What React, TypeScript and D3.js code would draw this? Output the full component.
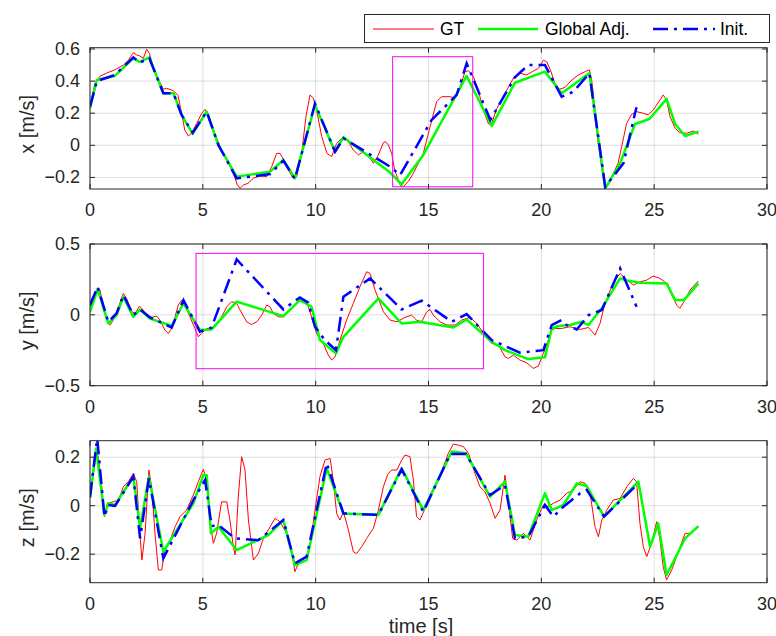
import React from 'react';
import * as d3 from 'd3';

// time axis shared by the three panels
const timeTicks = [0, 5, 10, 15, 20, 25, 30];

// panel 1: x velocity
const gtX = [[0,0.24],[0.22,0.386],[0.44,0.43],[0.74,0.45],[1.1,0.47],[1.48,0.5],[1.7,0.53],[1.92,0.577],[2.07,0.563],[2.2,0.557],[2.36,0.54],[2.51,0.598],[2.63,0.573],[2.8,0.49],[3.03,0.41],[3.25,0.35],[3.4,0.355],[3.7,0.34],[3.9,0.31],[4.06,0.2],[4.2,0.095],[4.36,0.058],[4.5,0.075],[4.73,0.137],[4.95,0.2],[5.1,0.224],[5.24,0.19],[5.47,0.096],[5.76,-0.008],[6.06,-0.09],[6.35,-0.174],[6.53,-0.247],[6.65,-0.268],[6.8,-0.247],[7.0,-0.237],[7.24,-0.205],[7.53,-0.19],[7.83,-0.195],[8.05,-0.133],[8.27,-0.05],[8.42,-0.05],[8.57,-0.087],[8.79,-0.154],[9.0,-0.205],[9.16,-0.195],[9.38,-0.05],[9.57,0.18],[9.75,0.314],[9.9,0.293],[10.04,0.22],[10.27,0.054],[10.5,-0.05],[10.71,-0.07],[10.93,0.012],[11.23,0.054],[11.45,0.023],[11.67,-0.03],[11.9,-0.06],[12.1,-0.04],[12.33,-0.06],[12.56,-0.112],[12.78,-0.06],[13.0,0.017],[13.1,0.023],[13.22,0.002],[13.37,-0.05],[13.5,-0.154],[13.74,-0.247],[13.88,-0.258],[14.1,-0.226],[14.33,-0.174],[14.77,-0.05],[15.07,0.116],[15.36,0.272],[15.58,0.303],[15.96,0.303],[16.18,0.293],[16.4,0.366],[16.62,0.459],[16.77,0.465],[16.99,0.428],[17.2,0.345],[17.43,0.22],[17.66,0.133],[17.8,0.137],[18.0,0.22],[18.3,0.303],[18.6,0.376],[18.8,0.428],[19.05,0.449],[19.35,0.438],[19.6,0.459],[19.87,0.48],[20.09,0.53],[20.24,0.52],[20.4,0.47],[20.6,0.386],[20.8,0.349],[21.05,0.361],[21.35,0.407],[21.64,0.438],[21.94,0.459],[22.13,0.47],[22.23,0.407],[22.38,0.22],[22.5,0.033],[22.67,-0.133],[22.8,-0.247],[22.97,-0.247],[23.19,-0.174],[23.4,-0.112],[23.56,-0.008],[23.78,0.137],[24.0,0.193],[24.22,0.21],[24.5,0.2],[24.74,0.19],[24.96,0.22],[25.26,0.283],[25.4,0.314],[25.55,0.283],[25.7,0.18],[25.93,0.106],[26.14,0.079],[26.44,0.075],[26.73,0.089],[26.96,0.07]];
const adjX = [[0,0.23],[0.3,0.407],[1.1,0.432],[1.92,0.542],[2.2,0.52],[2.63,0.548],[3.25,0.324],[3.7,0.324],[4.06,0.189],[4.55,0.071],[5.17,0.21],[5.69,0.002],[6.5,-0.195],[7.98,-0.164],[8.57,-0.091],[9.08,-0.206],[9.97,0.251],[10.86,-0.04],[11.23,0.05],[13.3,-0.17],[13.81,-0.243],[14.77,-0.06],[16.69,0.432],[17.8,0.12],[18.83,0.39],[20.16,0.459],[20.9,0.324],[22.13,0.449],[22.83,-0.268],[23.49,-0.112],[24.15,0.133],[24.79,0.164],[25.55,0.289],[25.93,0.133],[26.37,0.058],[26.96,0.085]];
const initX = [[0,0.24],[0.3,0.4],[1.1,0.438],[1.92,0.548],[2.2,0.515],[2.63,0.542],[3.25,0.324],[3.7,0.324],[4.06,0.189],[4.55,0.079],[5.17,0.21],[5.69,0.002],[6.5,-0.206],[7.09,-0.195],[7.98,-0.179],[8.57,-0.095],[9.08,-0.21],[9.97,0.26],[10.86,-0.04],[11.23,0.044],[13.3,-0.133],[13.74,-0.185],[15.14,0.158],[16.25,0.314],[16.69,0.511],[17.74,0.158],[18.83,0.424],[19.42,0.5],[20.16,0.5],[20.9,0.303],[21.42,0.334],[22.13,0.449],[22.83,-0.258],[23.64,-0.112],[24.15,0.2],[24.22,0.237]];
const ticksX = [-0.2, 0, 0.2, 0.4, 0.6];

// panel 2: y velocity
const gtY = [[0,0.057],[0.15,0.128],[0.34,0.19],[0.44,0.175],[0.59,0.069],[0.74,-0.037],[0.89,-0.072],[1.03,-0.037],[1.26,0.057],[1.48,0.151],[1.62,0.116],[1.85,0.022],[2.0,0.01],[2.19,0.062],[2.36,0.034],[2.58,-0.025],[2.81,-0.014],[2.95,-0.009],[3.1,-0.037],[3.32,-0.107],[3.47,-0.131],[3.62,-0.096],[3.77,-0.014],[3.91,0.069],[4.06,0.104],[4.21,0.069],[4.43,-0.014],[4.65,-0.096],[4.8,-0.155],[4.95,-0.131],[5.17,-0.096],[5.47,-0.096],[5.76,-0.037],[6.06,0.057],[6.28,0.093],[6.5,0.081],[6.65,0.034],[6.94,-0.049],[7.16,-0.068],[7.39,-0.049],[7.61,-0.002],[7.83,0.069],[7.98,0.057],[8.12,0.01],[8.35,-0.014],[8.57,-0.014],[8.86,0.034],[9.16,0.086],[9.38,0.104],[9.6,0.093],[9.82,-0.014],[10.04,-0.131],[10.34,-0.202],[10.56,-0.284],[10.71,-0.319],[10.86,-0.296],[11.08,-0.178],[11.37,-0.037],[11.67,0.081],[11.96,0.198],[12.26,0.304],[12.41,0.292],[12.63,0.175],[12.92,0.057],[13.0,0.022],[13.3,-0.037],[13.6,-0.049],[13.96,-0.018],[14.25,-0.002],[14.47,-0.037],[14.7,-0.049],[14.92,0.022],[15.07,0.038],[15.21,-0.002],[15.51,-0.049],[15.81,-0.072],[16.18,-0.072],[16.47,-0.037],[16.84,-0.018],[17.14,-0.061],[17.5,-0.143],[17.8,-0.202],[18.1,-0.213],[18.39,-0.296],[18.54,-0.308],[18.76,-0.284],[19.05,-0.319],[19.35,-0.338],[19.65,-0.378],[19.87,-0.361],[20.09,-0.272],[20.31,-0.178],[20.46,-0.107],[20.61,-0.096],[20.9,-0.096],[21.27,-0.084],[21.72,-0.103],[22.09,-0.089],[22.38,-0.143],[22.6,-0.061],[22.78,0.057],[23.05,0.175],[23.27,0.245],[23.49,0.292],[23.71,0.257],[24.08,0.21],[24.37,0.233],[24.67,0.245],[24.96,0.274],[25.26,0.257],[25.55,0.222],[25.78,0.14],[26.0,0.069],[26.14,0.046],[26.32,0.093],[26.59,0.175],[26.96,0.24]];
const adjY = [[0,0.022],[0.34,0.182],[0.81,-0.06],[1.18,-0.002],[1.48,0.128],[1.92,-0.014],[2.22,0.038],[2.66,-0.027],[3.62,-0.077],[4.14,0.081],[4.87,-0.107],[5.39,-0.103],[6.5,0.093],[8.57,-0.009],[9.3,0.104],[9.82,0.057],[10.19,-0.178],[10.9,-0.272],[11.23,-0.155],[12.78,0.116],[13.81,-0.061],[14.62,-0.049],[16.1,-0.089],[16.69,-0.033],[17.8,-0.19],[18.39,-0.249],[19.42,-0.312],[20.16,-0.3],[20.46,-0.096],[20.76,-0.079],[21.27,-0.072],[21.79,-0.049],[22.09,-0.072],[22.68,0.046],[23.49,0.257],[23.86,0.24],[24.37,0.226],[25.55,0.222],[25.93,0.104],[26.32,0.104],[26.96,0.222]];
const initY = [[0,0.069],[0.34,0.198],[0.81,-0.049],[1.18,0.01],[1.48,0.14],[1.92,-0.002],[2.22,0.038],[2.66,-0.018],[3.62,-0.089],[4.14,0.104],[4.87,-0.119],[5.39,-0.089],[6.5,0.391],[8.57,0.038],[9.3,0.123],[9.67,0.086],[9.97,-0.084],[10.41,-0.178],[10.9,-0.249],[11.23,0.128],[12.41,0.257],[13.81,0.038],[14.7,0.1],[16.03,-0.049],[16.69,0.005],[17.8,-0.178],[19.05,-0.267],[20.09,-0.249],[20.46,-0.072],[20.9,-0.037],[21.12,-0.072],[21.57,-0.103],[22.09,-0.002],[22.68,0.034],[23.49,0.328],[24.22,0.057]];
const ticksY = [-0.5, 0, 0.5];

// panel 3: z velocity
const gtZ = [[0,0.037],[0.15,0.133],[0.27,0.23],[0.37,0.2],[0.52,0.078],[0.64,-0.045],[0.77,0.01],[1.03,0.016],[1.26,0.023],[1.48,0.078],[1.7,0.099],[1.92,0.133],[2.07,0.099],[2.19,-0.087],[2.3,-0.224],[2.44,-0.114],[2.61,0.147],[2.73,0.078],[2.88,-0.114],[3.03,-0.265],[3.18,-0.265],[3.32,-0.183],[3.55,-0.142],[3.77,-0.087],[3.99,-0.045],[4.28,-0.018],[4.58,0.044],[4.8,0.099],[5.02,0.15],[5.17,0.106],[5.32,-0.073],[5.47,-0.155],[5.61,-0.114],[5.83,0.016],[6.06,0.016],[6.2,-0.059],[6.35,-0.169],[6.43,-0.203],[6.57,0.037],[6.72,0.202],[6.87,0.147],[7.02,-0.059],[7.24,-0.224],[7.46,-0.197],[7.68,-0.135],[7.9,-0.1],[8.2,-0.052],[8.42,-0.066],[8.71,-0.114],[8.94,-0.19],[9.08,-0.272],[9.3,-0.224],[9.53,-0.217],[9.75,-0.169],[9.97,-0.018],[10.19,0.12],[10.41,0.188],[10.64,0.195],[10.78,0.106],[10.93,-0.032],[11.08,-0.059],[11.23,-0.025],[11.45,-0.1],[11.67,-0.19],[11.82,-0.197],[12.04,-0.169],[12.26,-0.135],[12.56,-0.093],[12.78,-0.018],[13.0,0.078],[13.2,0.13],[13.37,0.147],[13.6,0.147],[13.81,0.188],[13.96,0.209],[14.18,0.202],[14.33,0.106],[14.47,-0.045],[14.62,-0.059],[14.85,-0.011],[15.0,0.03],[15.21,0.058],[15.43,0.106],[15.66,0.161],[15.88,0.216],[16.1,0.254],[16.32,0.25],[16.55,0.243],[16.77,0.216],[17.06,0.133],[17.28,0.078],[17.5,0.058],[17.73,0.01],[17.95,-0.052],[18.17,-0.018],[18.39,0.126],[18.54,0.01],[18.73,-0.135],[18.91,-0.142],[19.2,-0.114],[19.5,-0.142],[19.79,-0.059],[20.09,0.003],[20.31,-0.004],[20.53,0.01],[20.83,0.023],[21.12,0.051],[21.42,0.065],[21.72,0.099],[21.94,0.092],[22.16,0.051],[22.38,-0.087],[22.53,-0.128],[22.68,-0.059],[22.9,-0.018],[23.19,0.023],[23.49,0.03],[23.79,0.078],[24.08,0.113],[24.22,0.099],[24.37,-0.073],[24.52,-0.169],[24.67,-0.21],[24.89,-0.155],[25.11,-0.066],[25.26,-0.142],[25.4,-0.252],[25.55,-0.306],[25.78,-0.265],[26.07,-0.19],[26.37,-0.114],[26.66,-0.114],[26.96,-0.087]];
const adjZ = [[0,0.03],[0.27,0.236],[0.64,-0.038],[0.81,0.01],[1.11,0.003],[1.92,0.12],[2.22,-0.093],[2.61,0.12],[3.25,-0.19],[4.58,0.01],[5.02,0.126],[5.17,0.126],[5.36,-0.114],[5.69,-0.087],[6.5,-0.183],[7.9,-0.121],[8.57,-0.059],[9.08,-0.245],[9.6,-0.224],[10.49,0.154],[11.23,-0.032],[12.78,-0.038],[13.81,0.154],[14.77,-0.018],[16.03,0.223],[16.66,0.216],[17.73,0.037],[18.39,0.099],[18.83,-0.121],[19.42,-0.128],[20.16,0.051],[20.46,-0.018],[20.98,0.003],[21.57,0.092],[22.01,0.081],[22.78,-0.045],[24.3,0.099],[24.82,-0.169],[25.18,-0.073],[25.55,-0.286],[26.37,-0.135],[26.96,-0.084]];
const initZ = [[0,0.037],[0.32,0.278],[0.64,-0.045],[0.81,0.003],[1.11,-0.001],[1.92,0.12],[2.22,-0.135],[2.61,0.113],[3.25,-0.217],[4.58,0.023],[5.1,0.106],[5.39,-0.084],[5.69,-0.08],[6.43,-0.135],[7.46,-0.142],[8.57,-0.059],[9.08,-0.238],[9.6,-0.21],[10.49,0.175],[11.23,-0.032],[12.78,-0.038],[13.81,0.15],[14.77,-0.025],[15.96,0.213],[16.66,0.213],[17.73,0.044],[18.39,0.085],[18.83,-0.135],[19.42,-0.128],[20.16,0.003],[20.53,-0.045],[20.98,-0.004],[21.72,0.051],[22.01,0.065],[22.78,-0.045],[24.22,0.085]];
const ticksZ = [-0.2, 0, 0.2];

// highlighted windows [t0, t1, v0, v1]
const boxX = [13.41, 16.96, -0.258, 0.552];
const boxY = [4.7, 17.44, -0.38, 0.434];

const legendNames = ['GT', 'Global Adj.', 'Init.'];

const FONT = '"Liberation Sans", Arial, Helvetica, sans-serif';
const INK = '#262626';
const LEFT = 90;
const RIGHT = 767;

const fmt = (v: number) => (v < 0 ? '\u2212' : '') + Math.abs(v);

type Pt = number[];

const Panel = ({ id, top, bottom, domain, ticks, label, gt, adj, init, box, showTimeLabel }: any) => {
  const x = d3.scaleLinear().domain([0, 30]).range([LEFT, RIGHT]);
  const y = d3.scaleLinear().domain(domain).range([bottom, top]);
  const line = d3.line<Pt>().x(d => x(d[0])).y(d => y(d[1]));
  const clip = `clip-${id}`;
  return (
    <g>
      <defs>
        <clipPath id={clip}>
          <rect x={LEFT} y={top} width={RIGHT - LEFT} height={bottom - top} />
        </clipPath>
      </defs>
      <rect x={LEFT} y={top} width={RIGHT - LEFT} height={bottom - top} fill="white" />
      {timeTicks.map(t => (
        <line key={'gx' + t} x1={x(t)} x2={x(t)} y1={top} y2={bottom} stroke={INK} strokeOpacity={0.15} />
      ))}
      {ticks.map((v: number) => (
        <line key={'gy' + v} x1={LEFT} x2={RIGHT} y1={y(v)} y2={y(v)} stroke={INK} strokeOpacity={0.15} />
      ))}
      <g clipPath={`url(#${clip})`}>
        <path d={line(gt) || ''} fill="none" stroke="#ff0000" strokeWidth={1} strokeLinejoin="round" />
        <path d={line(adj) || ''} fill="none" stroke="#00ff00" strokeWidth={2.5} strokeLinejoin="round" />
        <path d={line(init) || ''} fill="none" stroke="#0000ff" strokeWidth={2.5} strokeDasharray="15,6,3,6" />
        {box && (
          <rect x={x(box[0])} y={y(box[3])} width={x(box[1]) - x(box[0])} height={y(box[2]) - y(box[3])}
            fill="none" stroke="#ff00ff" strokeWidth={1} />
        )}
      </g>
      <rect x={LEFT} y={top} width={RIGHT - LEFT} height={bottom - top} fill="none" stroke={INK} strokeWidth={1} />
      {timeTicks.map(t => (
        <g key={'tx' + t}>
          <line x1={x(t)} x2={x(t)} y1={bottom} y2={bottom - 5} stroke={INK} />
          <line x1={x(t)} x2={x(t)} y1={top} y2={top + 5} stroke={INK} />
          <text x={x(t)} y={bottom + 21} textAnchor="middle" dominantBaseline="central" fontSize={18} fill={INK} fontFamily={FONT}>{t}</text>
        </g>
      ))}
      {ticks.map((v: number) => (
        <g key={'ty' + v}>
          <line x1={LEFT} x2={LEFT + 5} y1={y(v)} y2={y(v)} stroke={INK} />
          <line x1={RIGHT} x2={RIGHT - 5} y1={y(v)} y2={y(v)} stroke={INK} />
          <text x={80} y={y(v)} textAnchor="end" dominantBaseline="central" fontSize={18} fill={INK} fontFamily={FONT}>{fmt(v)}</text>
        </g>
      ))}
      <text transform={`translate(27,${(top + bottom) / 2 + 6}) rotate(-90)`} textAnchor="middle" dominantBaseline="central"
        fontSize={20} fill={INK} fontFamily={FONT}>{label}</text>
      {showTimeLabel && (
        <text x={421} y={626} textAnchor="middle" dominantBaseline="central" fontSize={20} fill={INK} fontFamily={FONT}>time [s]</text>
      )}
    </g>
  );
};

const Legend = () => {
  const items = [
    { name: legendNames[0], color: '#ff0000', w: 1, dash: undefined, x0: 373, x1: 434, tx: 440 },
    { name: legendNames[1], color: '#00ff00', w: 2.5, dash: undefined, x0: 478, x1: 538, tx: 545 },
    { name: legendNames[2], color: '#0000ff', w: 2.5, dash: '15,6,3,6', x0: 653, x1: 715, tx: 720 },
  ];
  return (
    <g>
      <rect x={364.5} y={14.5} width={405} height={28} fill="white" stroke={INK} strokeWidth={1} />
      {items.map(it => (
        <g key={it.name}>
          <line x1={it.x0} x2={it.x1} y1={29} y2={29} stroke={it.color} strokeWidth={it.w} strokeDasharray={it.dash} />
          <text x={it.tx} y={29} dominantBaseline="central" fontSize={17.5} fill="#000" fontFamily={FONT}>{it.name}</text>
        </g>
      ))}
    </g>
  );
};

export default function App() {
  return (
    <svg width={776} height={636} style={{ position: 'absolute', left: 0, top: 0, background: 'white' }}>
      <Panel id="x" top={47.7} bottom={189} domain={[-0.272, 0.608]} ticks={ticksX} label="x [m/s]"
        gt={gtX} adj={adjX} init={initX} box={boxX} />
      <Panel id="y" top={244} bottom={385.7} domain={[-0.5, 0.5]} ticks={ticksY} label="y [m/s]"
        gt={gtY} adj={adjY} init={initY} box={boxY} />
      <Panel id="z" top={440.7} bottom={582.7} domain={[-0.3175, 0.268]} ticks={ticksZ} label="z [m/s]"
        gt={gtZ} adj={adjZ} init={initZ} showTimeLabel />
      <Legend />
    </svg>
  );
}
